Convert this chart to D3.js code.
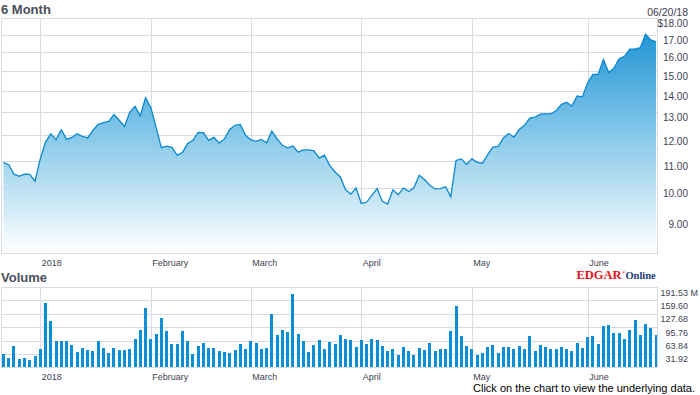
<!DOCTYPE html>
<html>
<head>
<meta charset="utf-8">
<script src="https://cdn.jsdelivr.net/npm/d3@7"></script>
<style>
  body { margin: 0; background: #fff; }
  text { font-family: "Liberation Sans", Arial, sans-serif; }
</style>
</head>
<body>
<svg id="chart" width="700" height="395"></svg>
<script>
/*------------------- data -------------------*/
// daily close, one value per trading day (Dec 20 2017 -> Jun 20 2018)
const price = [
  10.93, 10.85, 10.50, 10.42, 10.50, 10.49, 10.25, 11.07, 11.73, 12.07,
  11.83, 12.24, 11.84, 11.92, 12.07, 11.96, 11.90, 12.21, 12.47, 12.55,
  12.60, 12.90, 12.65, 12.38, 13.00, 13.27, 12.84, 13.67, 13.22, 12.35,
  11.51, 11.57, 11.52, 11.21, 11.31, 11.67, 11.80, 12.13, 12.12, 11.80,
  11.92, 11.69, 11.86, 12.25, 12.43, 12.47, 12.01, 11.83, 11.76, 11.84,
  11.70, 12.18, 11.86, 11.60, 11.50, 11.57, 11.33, 11.42, 11.42, 11.38,
  11.10, 11.21, 10.82, 10.58, 10.40, 9.96, 9.80, 10.01, 9.49, 9.53,
  9.76, 9.99, 9.56, 9.47, 9.95, 9.78, 10.01, 9.89, 10.02, 10.46,
  10.31, 10.11, 9.98, 9.99, 10.05, 9.71, 11.01, 11.07, 10.86, 11.07,
  10.94, 10.90, 11.23, 11.53, 11.56, 11.90, 12.08, 11.93, 12.25, 12.43,
  12.74, 12.78, 12.92, 12.93, 12.93, 13.07, 13.35, 13.46, 13.28, 13.75,
  13.71, 14.39, 14.82, 14.82, 15.59, 14.91, 15.14, 15.64, 15.77, 16.16,
  16.17, 16.25, 17.02, 16.69, 16.58
];

// daily volume, millions of shares
const volume = [
  31.8, 22.2, 50.8, 19.9, 21.4, 17.5, 27.0, 42.9, 153.2, 110.4,
  62.7, 62.7, 62.7, 53.2, 36.5, 45.3, 40.5, 38.9, 62.7, 45.3,
  34.1, 45.3, 41.3, 41.3, 43.7, 67.5, 88.1, 141.3, 67.5, 78.6,
  117.5, 86.5, 54.8, 54.8, 86.5, 62.7, 31.8, 50.8, 58.0, 45.3,
  45.3, 38.1, 35.7, 33.3, 40.5, 54.8, 43.7, 62.7, 58.0, 43.7,
  46.1, 127.0, 77.0, 88.9, 84.2, 174.7, 79.4, 62.7, 36.5, 53.2,
  65.1, 43.7, 60.3, 55.6, 77.0, 67.5, 65.1, 48.4, 65.1, 55.6,
  67.5, 65.1, 50.8, 38.9, 43.7, 29.4, 48.4, 38.9, 29.4, 46.1,
  41.3, 58.0, 38.9, 43.7, 43.7, 86.5, 146.1, 74.6, 50.8, 42.9,
  29.4, 33.3, 48.4, 53.2, 34.1, 48.4, 48.4, 43.7, 50.8, 43.7,
  74.6, 38.9, 53.2, 48.4, 43.7, 43.7, 48.4, 43.7, 38.9, 58.0,
  46.1, 72.3, 74.6, 55.6, 98.5, 100.8, 81.8, 81.8, 67.5, 88.9,
  112.7, 77.0, 103.2, 93.7, 77.0
];

// first trading day of each month (index into the series) and its label
const monthStart = [7, 28, 47, 68, 89, 111];
const monthLabels = ["2018", "February", "March", "April", "May", "June"];

const priceTicks = [9, 10, 11, 12, 13, 14, 15, 16, 17, 18];
const volumeTicks = [31.92, 63.84, 95.76, 127.68, 159.60, 191.53];
const lastDate = "06/20/18";

/*------------------- layout -------------------*/
const svg = d3.select("#chart");
const plotLeft = 1, plotRight = 657;
const priceTop = 18, priceBottom = 253;
const volTop = 287, volBottom = 367.3;

const gridColor = "#d6dbe4";
const labelColor = "#3e4352";
const crisp = v => Math.round(v) + 0.5;

/*------------------- scales -------------------*/
const x = d3.scaleLinear()
    .domain([-0.5, price.length - 0.5])
    .range([0.8, 658.7]);

const y = d3.scaleLog()
    .domain([8, 18])
    .range([priceBottom, priceTop]);

const yv = d3.scaleLinear()
    .domain([0, 191.53])
    .range([volBottom, volTop]);

/*------------------- gradient -------------------*/
const grad = svg.append("defs").append("linearGradient")
    .attr("id", "areaFill")
    .attr("gradientUnits", "userSpaceOnUse")
    .attr("x1", 0).attr("x2", 0)
    .attr("y1", y(17.3)).attr("y2", priceBottom);
grad.append("stop").attr("offset", 0).attr("stop-color", "#1e93d4");
grad.append("stop").attr("offset", 0.5).attr("stop-color", "#8ccbea");
grad.append("stop").attr("offset", 1).attr("stop-color", "#ffffff");

/*------------------- titles -------------------*/
svg.append("text")
    .attr("x", 1).attr("y", 14)
    .style("font-size", "13px").style("font-weight", "bold")
    .attr("fill", "#4a4f5c")
    .text("6 Month");

svg.append("text")
    .attr("x", 688).attr("y", 15.5)
    .attr("text-anchor", "end")
    .style("font-size", "10.5px")
    .attr("fill", labelColor)
    .text(lastDate);

svg.append("text")
    .attr("x", 1).attr("y", 282)
    .style("font-size", "13px").style("font-weight", "bold")
    .attr("fill", "#4a4f5c")
    .text("Volume");

/*------------------- price panel -------------------*/
const pg = svg.append("g").attr("shape-rendering", "crispEdges");

pg.selectAll("line.h")
    .data(priceTicks)
    .enter().append("line")
    .attr("class", "h")
    .attr("x1", plotLeft).attr("x2", plotRight)
    .attr("y1", d => crisp(y(d))).attr("y2", d => crisp(y(d)))
    .attr("stroke", gridColor);

pg.selectAll("line.v")
    .data(monthStart)
    .enter().append("line")
    .attr("class", "v")
    .attr("x1", d => crisp(x(d))).attr("x2", d => crisp(x(d)))
    .attr("y1", priceTop).attr("y2", priceBottom)
    .attr("stroke", gridColor);

const area = d3.area()
    .x((d, i) => x(i))
    .y0(priceBottom)
    .y1(d => y(d));

const line = d3.line()
    .x((d, i) => x(i))
    .y(d => y(d));

svg.append("path")
    .datum(price)
    .attr("d", area)
    .attr("fill", "url(#areaFill)");

svg.append("path")
    .datum(price)
    .attr("d", line)
    .attr("fill", "none")
    .attr("stroke", "#0a88cf")
    .attr("stroke-width", 1.3);

svg.append("rect")
    .attr("x", crisp(plotLeft)).attr("y", crisp(priceTop))
    .attr("width", plotRight - plotLeft).attr("height", priceBottom - priceTop)
    .attr("fill", "none")
    .attr("stroke", gridColor)
    .attr("shape-rendering", "crispEdges");

svg.selectAll("text.py")
    .data(priceTicks)
    .enter().append("text")
    .attr("class", "py")
    .attr("x", 688)
    .attr("y", d => y(d) + 9)
    .attr("text-anchor", "end")
    .style("font-size", "10px")
    .attr("fill", labelColor)
    .text(d => (d === 18 ? "$" : "") + d3.format(".2f")(d));

svg.selectAll("text.px")
    .data(monthStart)
    .enter().append("text")
    .attr("class", "px")
    .attr("x", d => x(d) + 1.5)
    .attr("y", 265.5)
    .style("font-size", "9px")
    .attr("fill", labelColor)
    .text((d, i) => monthLabels[i]);

/*------------------- volume panel -------------------*/
const vg = svg.append("g").attr("shape-rendering", "crispEdges");

vg.selectAll("line.h")
    .data(volumeTicks)
    .enter().append("line")
    .attr("class", "h")
    .attr("x1", plotLeft).attr("x2", plotRight)
    .attr("y1", d => crisp(yv(d))).attr("y2", d => crisp(yv(d)))
    .attr("stroke", gridColor);

vg.selectAll("line.v")
    .data(monthStart)
    .enter().append("line")
    .attr("class", "v")
    .attr("x1", d => crisp(x(d))).attr("x2", d => crisp(x(d)))
    .attr("y1", volTop).attr("y2", volBottom)
    .attr("stroke", gridColor);

svg.append("g")
    .attr("shape-rendering", "crispEdges")
    .selectAll("rect")
    .data(volume)
    .enter().append("rect")
    .attr("x", (d, i) => Math.round(x(i) - 1.5))
    .attr("width", 3)
    .attr("y", d => yv(d))
    .attr("height", d => volBottom - yv(d))
    .attr("fill", "#0b8ed5");

svg.append("rect")
    .attr("x", crisp(plotLeft)).attr("y", crisp(volTop))
    .attr("width", plotRight - plotLeft).attr("height", volBottom - volTop)
    .attr("fill", "none")
    .attr("stroke", gridColor)
    .attr("shape-rendering", "crispEdges");

svg.selectAll("text.vy")
    .data(volumeTicks)
    .enter().append("text")
    .attr("class", "vy")
    .attr("x", 688)
    .attr("y", d => yv(d) + 8.5)
    .attr("text-anchor", "end")
    .style("font-size", "9px")
    .attr("fill", labelColor)
    .text(d => d3.format(".2f")(d));

svg.append("text")
    .attr("x", 690.5)
    .attr("y", yv(191.53) + 8.5)
    .style("font-size", "9px")
    .attr("fill", labelColor)
    .text("M");

svg.selectAll("text.vx")
    .data(monthStart)
    .enter().append("text")
    .attr("class", "vx")
    .attr("x", d => x(d) + 1.5)
    .attr("y", 380)
    .style("font-size", "9px")
    .attr("fill", labelColor)
    .text((d, i) => monthLabels[i]);

/*------------------- EDGAR Online logo -------------------*/
const logo = svg.append("text")
    .attr("x", 576.5).attr("y", 279)
    .style("font-family", "'Liberation Serif', 'Times New Roman', serif")
    .style("font-weight", "bold");
logo.append("tspan")
    .style("font-size", "12.5px")
    .attr("fill", "#e3141c")
    .text("EDGAR");
logo.append("tspan")
    .style("font-size", "5px")
    .attr("dy", -5)
    .attr("fill", "#e3141c")
    .text("®");
logo.append("tspan")
    .style("font-size", "10.5px")
    .attr("dy", 5)
    .attr("fill", "#1b3a78")
    .text("Online");

/*------------------- footer -------------------*/
svg.append("text")
    .attr("x", 695).attr("y", 392)
    .attr("text-anchor", "end")
    .style("font-size", "11px")
    .attr("fill", "#000")
    .text("Click on the chart to view the underlying data.");
</script>
</body>
</html>
